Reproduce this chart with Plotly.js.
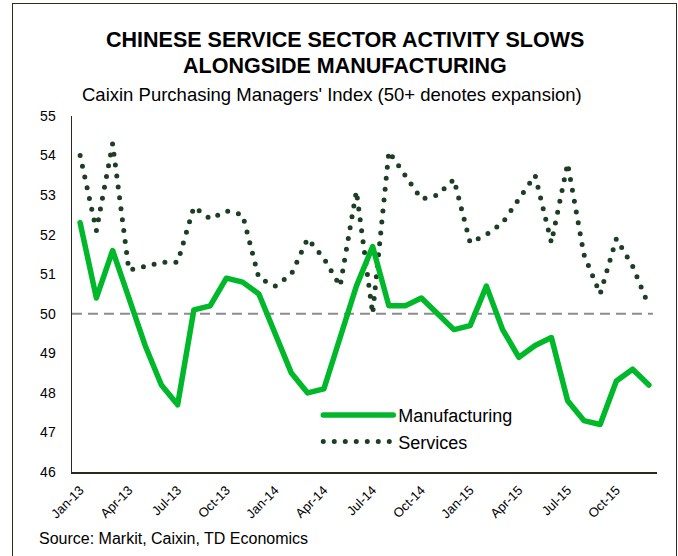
<!DOCTYPE html>
<html>
<head>
<meta charset="utf-8">
<script src="https://cdn.plot.ly/plotly-3.0.1.min.js"></script>
<style>
html,body{margin:0;padding:0;background:#fff;overflow:hidden;}
#wrap{position:relative;width:678px;height:556px;overflow:hidden;}
#chart{width:678px;height:556px;}
#frame{position:absolute;left:12px;top:3px;width:665px;height:620px;box-sizing:border-box;border:1.6px solid #2b2e1f;pointer-events:none;}
.js-line{stroke-linecap:round;stroke-linejoin:round;}
</style>
</head>
<body>
<div id="wrap"><div id="chart"></div><div id="frame"></div></div>
<script>
const months = ["Jan-13","Feb-13","Mar-13","Apr-13","May-13","Jun-13","Jul-13","Aug-13","Sep-13","Oct-13","Nov-13","Dec-13",
  "Jan-14","Feb-14","Mar-14","Apr-14","May-14","Jun-14","Jul-14","Aug-14","Sep-14","Oct-14","Nov-14","Dec-14",
  "Jan-15","Feb-15","Mar-15","Apr-15","May-15","Jun-15","Jul-15","Aug-15","Sep-15","Oct-15","Nov-15","Dec-15"];
const manufacturing = [52.3,50.4,51.6,50.4,49.2,48.2,47.7,50.1,50.2,50.9,50.8,50.5,
  49.5,48.5,48.0,48.1,49.4,50.7,51.7,50.2,50.2,50.4,50.0,49.6,
  49.7,50.7,49.6,48.9,49.2,49.4,47.8,47.3,47.2,48.3,48.6,48.2];
const services = [54.0,52.1,54.3,51.1,51.2,51.3,51.3,52.7,52.4,52.6,52.5,50.9,
  50.7,51.0,51.9,51.4,50.7,53.1,50.0,54.1,53.5,52.9,53.0,53.4,
  51.8,52.0,52.3,52.9,53.5,51.8,53.8,51.5,50.5,51.9,51.2,50.2];
const tickMonths = ["Jan-13","Apr-13","Jul-13","Oct-13","Jan-14","Apr-14","Jul-14","Oct-14","Jan-15","Apr-15","Jul-15","Oct-15"];
const yTicks = [46,47,48,49,50,51,52,53,54,55];
const threshold = 50;

const FONT = "Arial, 'Liberation Sans', sans-serif";

const traces = [
  {x: months, y: services, name: "Services", type: "scatter", mode: "lines",
   line: {color: "#1a3f23", width: 5, dash: "0px,11px"}, legendgroup: "b", legendrank: 2},
  {x: months, y: manufacturing, name: "Manufacturing", type: "scatter", mode: "lines",
   line: {color: "#00b82a", width: 5.5}, legendgroup: "a", legendrank: 1}
];

const layout = {
  width: 678, height: 556,
  margin: {l: 72, r: 21, t: 116, b: 84},
  paper_bgcolor: "#fff", plot_bgcolor: "#fff",
  font: {family: FONT, color: "#000"},
  showlegend: true,
  legend: {x: 0.421, y: 0.211, xanchor: "left", yanchor: "top", bgcolor: "rgba(0,0,0,0)",
    font: {size: 18, family: FONT, color: "#000"}, itemwidth: 70, tracegroupgap: 3,
    traceorder: "normal"},
  xaxis: {type: "category", range: [-0.5, 35.5], tickmode: "array", tickvals: tickMonths, ticktext: tickMonths,
    tickangle: -45, tickfont: {size: 13, family: FONT, color: "#000"}, showgrid: false, zeroline: false,
    showline: true, linecolor: "#262b1c", linewidth: 1.5, ticks: "", ticklabelstandoff: 4},
  yaxis: {range: [46, 55], tickvals: yTicks, tickfont: {size: 14, family: FONT, color: "#000"},
    showgrid: false, zeroline: false, showline: true, linecolor: "#262b1c", linewidth: 1.5, ticks: "",
    ticklabelstandoff: 12},
  shapes: [
    {type: "line", xref: "paper", x0: 0, x1: 0.993, yref: "y", y0: threshold, y1: threshold,
     line: {color: "#8c8c8c", width: 2, dash: "10px,6px"}, layer: "below"}
  ],
  annotations: [
    {text: "<b>CHINESE SERVICE SECTOR ACTIVITY SLOWS</b>", xref: "paper", yref: "paper",
     x: 0.4675, y: 1.2121, xanchor: "center", yanchor: "middle", showarrow: false,
     font: {size: 21.5, family: FONT, color: "#000"}},
    {text: "<b>ALONGSIDE MANUFACTURING</b>", xref: "paper", yref: "paper",
     x: 0.4675, y: 1.1404, xanchor: "center", yanchor: "middle", showarrow: false,
     font: {size: 21.5, family: FONT, color: "#000"}},
    {text: "Caixin Purchasing Managers' Index (50+ denotes expansion)", xref: "paper", yref: "paper",
     x: 0.4436, y: 1.059, xanchor: "center", yanchor: "middle", showarrow: false,
     font: {size: 18.5, family: FONT, color: "#000"}},
    {text: "Source: Markit, Caixin, TD Economics", xref: "paper", yref: "paper",
     x: -0.0598, y: -0.188, xanchor: "left", yanchor: "middle", showarrow: false,
     font: {size: 16, family: FONT, color: "#000"}}
  ]
};

Plotly.newPlot("chart", traces, layout, {staticPlot: true, displayModeBar: false});
</script>
</body>
</html>
